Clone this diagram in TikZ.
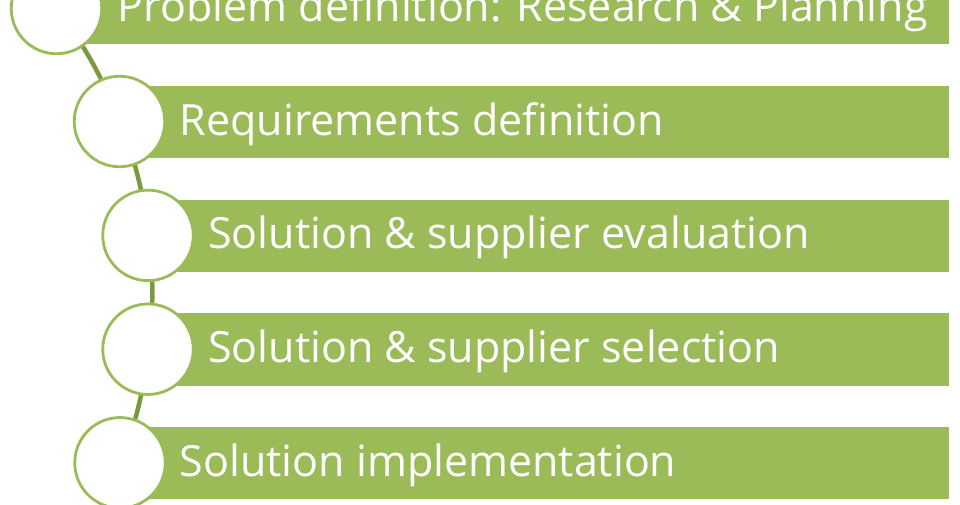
\documentclass[tikz,border=0pt]{standalone}
\usepackage{fontspec}
\setmainfont{Open Sans}[Ligatures=NoCommon]
\definecolor{barg}{HTML}{9BBB59}
\definecolor{ringg}{HTML}{9BBB59}
\definecolor{lineg}{HTML}{7A9A40}
\begin{document}
\begin{tikzpicture}[x=1pt,y=-1pt,
  bar/.style={fill=barg},
  ring/.style={circle,draw=ringg,line width=2.8pt,fill=white,minimum size=90.5pt,inner sep=0pt},
  link/.style={draw=lineg,line width=4.5pt},
  label/.style={anchor=base west,inner sep=0pt,text=white,font=\fontsize{43}{50}\selectfont}]
\useasboundingbox (0,0) rectangle (960,504);
\fill[white] (0,0) rectangle (960,504);
% bars
\path[bar] (56.5,-28) rectangle (949,43.8);
\path[bar] (119.5,86) rectangle (949,157.5);
\path[bar] (148,199.5) rectangle (949,271.5);
\path[bar] (148,313.3) rectangle (949,385.5);
\path[bar] (120,427) rectangle (949,498.5);
% circle positions
\coordinate (p1) at (56.5,8.5);
\coordinate (p2) at (119.5,121.5);
\coordinate (p3) at (148,235.4);
\coordinate (p4) at (148,349.2);
\coordinate (p5) at (120,462.8);
% connectors
\draw[link] (p1) to[bend left=7.5] (p2);
\draw[link] (p2) to[bend left=7.5] (p3);
\draw[link] (p3) to[bend left=7.5] (p4);
\draw[link] (p4) to[bend left=7.5] (p5);
% circles
\node[ring] (c1) at (p1) {};
\node[ring] (c2) at (p2) {};
\node[ring] (c3) at (p3) {};
\node[ring] (c4) at (p4) {};
\node[ring] (c5) at (p5) {};
% texts
\node[label] (t1) at (117.5,21.5) {Problem definition: Research \& Planning};
\node[label] (t2) at (179.5,135) {Requirements definition};
\node[label] (t3) at (208,248.7) {Solution \& supplier evaluation};
\node[label] (t4) at (208,362.4) {Solution \& supplier selection};
\node[label] (t5) at (179.5,476) {Solution implementation};
\end{tikzpicture}
\end{document}
